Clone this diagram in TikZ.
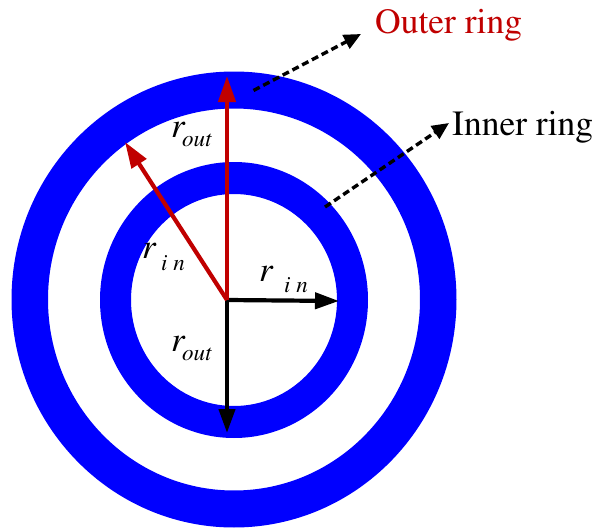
\documentclass[tikz,border=0pt]{standalone}
\usepackage[T1]{fontenc}
\usepackage{mathptmx}
\usetikzlibrary{arrows.meta}
\definecolor{ringblue}{RGB}{0,0,255}
\definecolor{darkred}{RGB}{192,0,0}
\begin{document}
\begin{tikzpicture}[x=1pt,y=-1pt,
  redarrow/.style={draw=darkred, line width=4.2pt, -{Triangle[length=26pt,width=17pt]}},
  blackarrow/.style={draw=black, line width=4.2pt, -{Triangle[length=24pt,width=16pt]}},
  dasharrow/.style={draw=black, line width=3.4pt, dash pattern=on 7pt off 4pt, -{Triangle[length=17pt,width=15pt]}},
  bigtext/.style={inner sep=0pt, anchor=base west, font=\rmfamily\fontsize{35.5}{40}\selectfont},
  rsym/.style={inner sep=0pt, anchor=base west, font=\rmfamily\fontsize{35}{38}\selectfont\itshape},
  rsub/.style={inner sep=0pt, anchor=base west, font=\rmfamily\fontsize{23}{26}\selectfont\itshape}]
\useasboundingbox (0,0) rectangle (598,530);
% rings
\fill[ringblue, even odd rule]
  (234,299.5) ellipse [x radius=222.5pt, y radius=228pt]
  (234,299.5) ellipse [x radius=186pt, y radius=191pt];
\fill[ringblue, even odd rule]
  (234,300) ellipse [x radius=134pt, y radius=138pt]
  (234,300) ellipse [x radius=103pt, y radius=106pt];
% coordinates
\coordinate (O) at (227,300);
\coordinate (outTip) at (227,76);
\coordinate (inTip) at (125,142);
\coordinate (rightTip) at (339,301);
\coordinate (downTip) at (227,433);
\coordinate (outerStart) at (253.5,90.5);
\coordinate (outerEnd) at (361,34);
\coordinate (innerStart) at (325,207);
\coordinate (innerEnd) at (449,123);
% labels
\node[bigtext, text=darkred] (outerlbl) at (375,34) {Outer ring};
\node[bigtext] (innerlbl) at (452,135) {Inner ring};
% arrows
\draw[blackarrow] (O) -- (rightTip);
\draw[blackarrow] (O) -- (downTip);
\draw[redarrow] (O) -- (outTip);
\draw[redarrow] (O) -- (inTip);
\draw[dasharrow] (outerStart) -- (outerEnd);
\draw[dasharrow] (innerStart) -- (innerEnd);
% r labels
\node[rsym] (r1) at (171,137.5) {r};
\node[rsub] (s1) at (182,146.5) {out};
\node[rsym] (r2) at (142,258.5) {r};
\node[rsub] (s2) at (161,270) {i n};
\node[rsym] (r3) at (259,281) {r};
\node[rsub] (s3) at (284,292) {i n};
\node[rsym] (r4) at (171,351) {r};
\node[rsub] (s4) at (182,360) {out};
\end{tikzpicture}
\end{document}
